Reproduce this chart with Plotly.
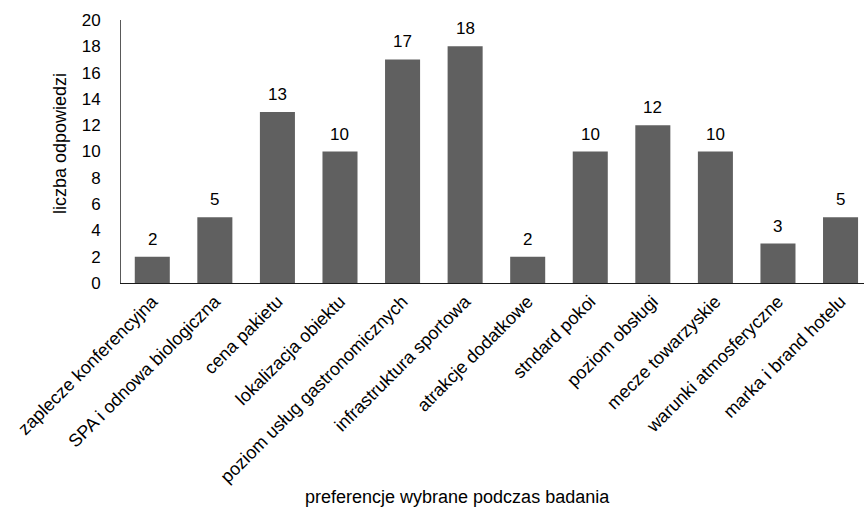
import plotly.graph_objects as go

categories = [
    "zaplecze konferencyjna",
    "SPA i odnowa biologiczna",
    "cena pakietu",
    "lokalizacja obiektu",
    "poziom usług gastronomicznych",
    "infrastruktura sportowa",
    "atrakcje dodatkowe",
    "stndard pokoi",
    "poziom obsługi",
    "mecze towarzyskie",
    "warunki atmosferyczne",
    "marka i brand hotelu",
]
values = [2, 5, 13, 10, 17, 18, 2, 10, 12, 10, 3, 5]
y_ticks = list(range(0, 21, 2))

FONT = "Liberation Sans, Arial, Helvetica, sans-serif"
BAR_COLOR = "#606060"

# plot-area geometry in pixels
W, H = 864, 508
ML, MT, MB = 121, 20, 225
plot_w = W - ML
plot_h = H - MT - MB


def px_x(x):
    return (x - ML) / plot_w


def px_y(y):
    return (H - MB - y) / plot_h


fig = go.Figure(
    go.Bar(
        x=list(range(len(categories))),
        y=values,
        marker=dict(color=BAR_COLOR, line=dict(width=0)),
        width=0.56,
        hoverinfo="skip",
    )
)

# value labels above each bar
for i, v in enumerate(values):
    fig.add_annotation(
        x=i, y=v, text=str(v), showarrow=False,
        xanchor="center", yanchor="bottom", yshift=6,
        font=dict(family=FONT, size=17, color="#000000"),
    )

# axis titles
fig.add_annotation(
    x=px_x(457), y=px_y(497), xref="paper", yref="paper",
    text="preferencje wybrane podczas badania",
    xanchor="center", yanchor="middle", showarrow=False,
    font=dict(family=FONT, size=18, color="#000000"),
)
fig.add_annotation(
    x=px_x(60), y=px_y(144), xref="paper", yref="paper",
    text="liczba odpowiedzi", textangle=-90,
    xanchor="center", yanchor="middle", showarrow=False,
    font=dict(family=FONT, size=18, color="#000000"),
)

fig.update_layout(
    width=W, height=H,
    margin=dict(l=ML, r=0, t=MT, b=MB, autoexpand=False),
    paper_bgcolor="white", plot_bgcolor="white",
    showlegend=False,
    font=dict(family=FONT, color="#000000"),
)

fig.update_xaxes(
    range=[-0.5, 11.375],
    tickmode="array",
    tickvals=list(range(len(categories))),
    ticktext=categories,
    tickangle=-45,
    tickfont=dict(family=FONT, size=18, color="#000000"),
    showgrid=False, zeroline=False,
    showline=True, linecolor="#1a1a1a", linewidth=1,
    ticks="",
)
fig.update_yaxes(
    range=[0, 20],
    tickmode="array",
    tickvals=y_ticks,
    ticktext=[str(t) for t in y_ticks],
    tickfont=dict(family=FONT, size=17, color="#000000"),
    showgrid=False, zeroline=False,
    showline=True, linecolor="#595959", linewidth=1,
    ticks="outside", ticklen=16, tickcolor="rgba(0,0,0,0)",
)

fig.write_html("out.html")
